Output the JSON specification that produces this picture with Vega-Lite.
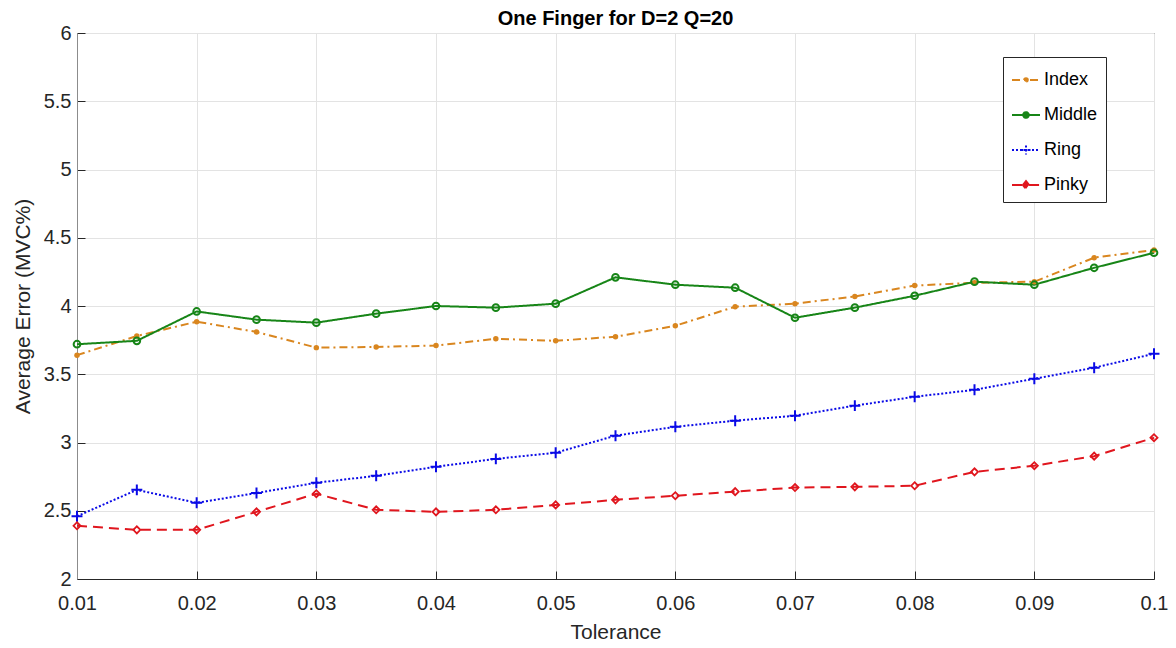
{
  "$schema": "https://vega.github.io/schema/vega-lite/v6.json",
  "width": 1077,
  "height": 546,
  "autosize": {"type": "none"},
  "padding": {"left": 77, "top": 33, "right": 22, "bottom": 69},
  "background": "white",
  "title": {"text": "One Finger for D=2 Q=20", "fontSize": 20, "fontWeight": "bold", "font": "Liberation Sans", "color": "#000000", "offset": 0, "dy": 6},
  "config": {
    "font": "Liberation Sans",
    "view": {"stroke": "#262626", "strokeWidth": 1},
    "axis": {
      "labelFont": "Liberation Sans", "labelFontSize": 20, "labelColor": "#262626",
      "titleFont": "Liberation Sans", "titleFontSize": 21, "titleFontWeight": "normal", "titleColor": "#262626",
      "gridColor": "#e3e3e3", "gridWidth": 1, "domainColor": "#262626", "tickColor": "#262626",
      "labelFlush": false, "labelOverlap": false
    }
  },
  "data": {"values": [
    {"tol": 0.01, "finger": "Index", "err": 3.64},
    {"tol": 0.015, "finger": "Index", "err": 3.78},
    {"tol": 0.02, "finger": "Index", "err": 3.885},
    {"tol": 0.025, "finger": "Index", "err": 3.81},
    {"tol": 0.03, "finger": "Index", "err": 3.695},
    {"tol": 0.035, "finger": "Index", "err": 3.70},
    {"tol": 0.04, "finger": "Index", "err": 3.71},
    {"tol": 0.045, "finger": "Index", "err": 3.76},
    {"tol": 0.05, "finger": "Index", "err": 3.745},
    {"tol": 0.055, "finger": "Index", "err": 3.775},
    {"tol": 0.06, "finger": "Index", "err": 3.855},
    {"tol": 0.065, "finger": "Index", "err": 3.995},
    {"tol": 0.07, "finger": "Index", "err": 4.017},
    {"tol": 0.075, "finger": "Index", "err": 4.07},
    {"tol": 0.08, "finger": "Index", "err": 4.15},
    {"tol": 0.085, "finger": "Index", "err": 4.17},
    {"tol": 0.09, "finger": "Index", "err": 4.178},
    {"tol": 0.095, "finger": "Index", "err": 4.354},
    {"tol": 0.1, "finger": "Index", "err": 4.41},
    {"tol": 0.01, "finger": "Middle", "err": 3.72},
    {"tol": 0.015, "finger": "Middle", "err": 3.745},
    {"tol": 0.02, "finger": "Middle", "err": 3.96},
    {"tol": 0.025, "finger": "Middle", "err": 3.90},
    {"tol": 0.03, "finger": "Middle", "err": 3.878},
    {"tol": 0.035, "finger": "Middle", "err": 3.944},
    {"tol": 0.04, "finger": "Middle", "err": 4.00},
    {"tol": 0.045, "finger": "Middle", "err": 3.988},
    {"tol": 0.05, "finger": "Middle", "err": 4.017},
    {"tol": 0.055, "finger": "Middle", "err": 4.21},
    {"tol": 0.06, "finger": "Middle", "err": 4.156},
    {"tol": 0.065, "finger": "Middle", "err": 4.134},
    {"tol": 0.07, "finger": "Middle", "err": 3.914},
    {"tol": 0.075, "finger": "Middle", "err": 3.988},
    {"tol": 0.08, "finger": "Middle", "err": 4.075},
    {"tol": 0.085, "finger": "Middle", "err": 4.178},
    {"tol": 0.09, "finger": "Middle", "err": 4.156},
    {"tol": 0.095, "finger": "Middle", "err": 4.28},
    {"tol": 0.1, "finger": "Middle", "err": 4.39},
    {"tol": 0.01, "finger": "Ring", "err": 2.46},
    {"tol": 0.015, "finger": "Ring", "err": 2.653},
    {"tol": 0.02, "finger": "Ring", "err": 2.558},
    {"tol": 0.025, "finger": "Ring", "err": 2.63},
    {"tol": 0.03, "finger": "Ring", "err": 2.705},
    {"tol": 0.035, "finger": "Ring", "err": 2.756},
    {"tol": 0.04, "finger": "Ring", "err": 2.822},
    {"tol": 0.045, "finger": "Ring", "err": 2.88},
    {"tol": 0.05, "finger": "Ring", "err": 2.925},
    {"tol": 0.055, "finger": "Ring", "err": 3.05},
    {"tol": 0.06, "finger": "Ring", "err": 3.115},
    {"tol": 0.065, "finger": "Ring", "err": 3.16},
    {"tol": 0.07, "finger": "Ring", "err": 3.196},
    {"tol": 0.075, "finger": "Ring", "err": 3.27},
    {"tol": 0.08, "finger": "Ring", "err": 3.335},
    {"tol": 0.085, "finger": "Ring", "err": 3.386},
    {"tol": 0.09, "finger": "Ring", "err": 3.467},
    {"tol": 0.095, "finger": "Ring", "err": 3.548},
    {"tol": 0.1, "finger": "Ring", "err": 3.65},
    {"tol": 0.01, "finger": "Pinky", "err": 2.39},
    {"tol": 0.015, "finger": "Pinky", "err": 2.36},
    {"tol": 0.02, "finger": "Pinky", "err": 2.36},
    {"tol": 0.025, "finger": "Pinky", "err": 2.492},
    {"tol": 0.03, "finger": "Pinky", "err": 2.625},
    {"tol": 0.035, "finger": "Pinky", "err": 2.507},
    {"tol": 0.04, "finger": "Pinky", "err": 2.492},
    {"tol": 0.045, "finger": "Pinky", "err": 2.507},
    {"tol": 0.05, "finger": "Pinky", "err": 2.543},
    {"tol": 0.055, "finger": "Pinky", "err": 2.58},
    {"tol": 0.06, "finger": "Pinky", "err": 2.61},
    {"tol": 0.065, "finger": "Pinky", "err": 2.64},
    {"tol": 0.07, "finger": "Pinky", "err": 2.67},
    {"tol": 0.075, "finger": "Pinky", "err": 2.675},
    {"tol": 0.08, "finger": "Pinky", "err": 2.683},
    {"tol": 0.085, "finger": "Pinky", "err": 2.785},
    {"tol": 0.09, "finger": "Pinky", "err": 2.83},
    {"tol": 0.095, "finger": "Pinky", "err": 2.90},
    {"tol": 0.1, "finger": "Pinky", "err": 3.035}
  ]},
  "encoding": {
    "x": {"field": "tol", "type": "quantitative", "title": "Tolerance",
      "scale": {"domain": [0.01, 0.1], "nice": false, "zero": false},
      "axis": {"values": [0.01, 0.02, 0.03, 0.04, 0.05, 0.06, 0.07, 0.08, 0.09, 0.1], "format": "~g", "tickSize": -8, "labelPadding": 22, "titlePadding": 8}},
    "y": {"field": "err", "type": "quantitative", "title": "Average Error (MVC%)",
      "scale": {"domain": [2, 6], "nice": false, "zero": false},
      "axis": {"values": [2, 2.5, 3, 3.5, 4, 4.5, 5, 5.5, 6], "format": "~g", "tickSize": -8, "labelPadding": 14, "titlePadding": 10, "domainColor": "#8c8c8c"}},
    "color": {"field": "finger", "type": "nominal",
      "scale": {"domain": ["Index", "Middle", "Ring", "Pinky"], "range": ["#D9861F", "#178517", "#0A0AE6", "#E0161E"]},
      "legend": null}
  },
  "layer": [
    {
      "mark": {"type": "line", "strokeWidth": 2},
      "encoding": {
        "color": {"field": "finger", "type": "nominal",
          "legend": {"title": null, "orient": "none", "legendX": 926, "legendY": 24, "fillColor": "white", "strokeColor": "#262626",
            "padding": 8, "labelFontSize": 18, "labelColor": "#000000", "labelFont": "Liberation Sans", "symbolType": "stroke", "symbolSize": 784,
            "symbolStrokeWidth": 2, "symbolFillColor": "white", "rowPadding": 11, "labelOffset": 3,
            "encode": {"symbols": {"update": {
              "fill": {"value": "white"},
              "shape": {"signal": "datum.value === 'Index' ? 'M-1,0L1,0M-0.13,0A0.13,0.13,0,1,1,0.13,0A0.13,0.13,0,1,1,-0.13,0' : datum.value === 'Middle' ? 'M-1,0L1,0M-0.2,0A0.2,0.2,0,1,1,0.2,0A0.2,0.2,0,1,1,-0.2,0' : datum.value === 'Ring' ? 'M-1,0L1,0M0,-0.32L0,0.32M-0.32,0L0.32,0' : 'M-1,0L-0.22,0M0.22,0L1,0M-0.22,0L0,-0.28L0.22,0L0,0.28Z'"}
            }}}}},
        "strokeDash": {"field": "finger", "type": "nominal",
          "scale": {"domain": ["Index", "Middle", "Ring", "Pinky"], "range": [[8, 4, 2, 4], [1, 0], [2, 2], [10, 6]]},
          "legend": {"title": null, "orient": "none", "legendX": 926, "legendY": 24}}
      }
    },
    {
      "transform": [{"filter": "datum.finger === 'Index'"}],
      "mark": {"type": "point", "shape": "circle", "filled": true, "size": 30, "opacity": 1}
    },
    {
      "transform": [{"filter": "datum.finger === 'Middle'"}],
      "mark": {"type": "point", "shape": "circle", "filled": false, "strokeWidth": 2, "size": 45, "opacity": 1}
    },
    {
      "transform": [{"filter": "datum.finger === 'Ring'"}],
      "mark": {"type": "point", "shape": "M-1,0L1,0M0,-1L0,1", "filled": false, "strokeWidth": 2, "size": 120, "opacity": 1}
    },
    {
      "transform": [{"filter": "datum.finger === 'Pinky'"}],
      "mark": {"type": "point", "shape": "diamond", "filled": false, "strokeWidth": 1.8, "size": 50, "opacity": 1}
    }
  ]
}
